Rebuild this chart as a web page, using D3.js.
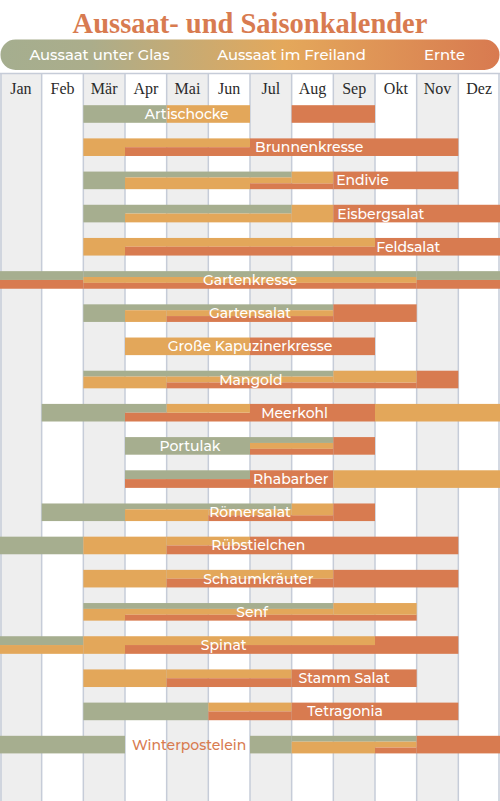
<!DOCTYPE html>
<html>
<head>
<meta charset="utf-8">
<script src="https://cdn.jsdelivr.net/npm/d3@7"></script>
<style>
  html, body { margin: 0; padding: 0; background: #ffffff; }
  svg { display: block; }
</style>
</head>
<body>
<svg id="chart" width="500" height="801"></svg>
<script>
// ---------- DATA ----------
const title = "Aussaat- und Saisonkalender";
const legendLabels = ["Aussaat unter Glas", "Aussaat im Freiland", "Ernte"];
const months = ["Jan","Feb","Mär","Apr","Mai","Jun","Jul","Aug","Sep","Okt","Nov","Dez"];
const plants = ["Artischocke","Brunnenkresse","Endivie","Eisbergsalat","Feldsalat","Gartenkresse",
  "Gartensalat","Große Kapuzinerkresse","Mangold","Meerkohl","Portulak","Rhabarber","Römersalat",
  "Rübstielchen","Schaumkräuter","Senf","Spinat","Stamm Salat","Tetragonia","Winterpostelein"];
// month index ranges (inclusive), 0 = Jan ... 11 = Dez
const glas = [
  [[2,3]], [], [[2,6]], [[2,6]], [], [[0,11]], [[2,7]], [], [[2,7]], [[1,3]],
  [[3,7]], [[3,5]], [[1,6]], [[0,1]], [], [[2,7]], [[0,1]], [], [[2,4]], [[0,2],[6,9]]
];
const freiland = [
  [[4,5]], [[2,5]], [[3,7]], [[3,7]], [[2,8]], [[2,9]], [[3,7]], [[3,5]], [[2,9]], [[4,5],[9,11]],
  [[6,7]], [[8,11]], [[3,7]], [[2,5]], [[2,7]], [[2,9]], [[0,8]], [[2,6]], [[5,6]], [[7,9]]
];
const ernte = [
  [[7,8]], [[3,10]], [[6,10]], [[8,11]], [[3,11]], [[0,11]], [[4,9]], [[6,8]], [[4,10]], [[3,8]],
  [[6,8]], [[3,7]], [[5,8]], [[4,10]], [[4,10]], [[3,9]], [[3,10]], [[4,9]], [[5,10]], [[9,11]]
];
// label anchor (in month units, centre of text) — layout, kept separate
const labelAt = [4.48,7.42,8.7,9.14,9.8,6.0,6.0,6.0,6.02,7.07,4.56,6.98,6.0,6.2,6.2,6.05,5.37,8.26,8.28,4.54];

// ---------- STYLE ----------
const colors = ["#a6ae8f", "#e3a75a", "#d87b50"];
const W = 500, H = 801;
const svg = d3.select("#chart");

const x = d3.scaleLinear().domain([0, 12]).range([0, 500]);
const y = d3.scaleBand().domain(plants).range([97.4, 97.4 + 20 * 33.19]);
const barH = 17.6;

// title
svg.append("text").attr("x", 250).attr("y", 33)
  .attr("text-anchor", "middle")
  .attr("font-family", "'Liberation Serif', 'DejaVu Serif', serif")
  .attr("font-weight", "bold").attr("font-size", 28.5)
  .attr("fill", "#d87b50").text(title);

// legend pill
const defs = svg.append("defs");
const grad = defs.append("linearGradient").attr("id", "lg").attr("x1", "0%").attr("x2", "100%");
grad.append("stop").attr("offset", "0%").attr("stop-color", "#a5ae8f");
grad.append("stop").attr("offset", "18%").attr("stop-color", "#abad8b");
grad.append("stop").attr("offset", "57%").attr("stop-color", "#e4a85b");
grad.append("stop").attr("offset", "100%").attr("stop-color", "#d87a50");
svg.append("rect").attr("x", 0.5).attr("y", 39.5).attr("width", 499).attr("height", 30.5)
  .attr("rx", 15).attr("fill", "url(#lg)");
const legendX = [99.5, 291.5, 444.5];
legendLabels.forEach((t, i) => {
  svg.append("text").attr("x", legendX[i]).attr("y", 60)
    .attr("text-anchor", "middle")
    .attr("font-family", "Montserrat, Inter, 'Open Sans', sans-serif")
    .attr("font-weight", 500)
    .attr("font-size", 14.8).attr("fill", "#ffffff").text(t);
});

// columns
const gridTop = 73.5;
const colG = svg.append("g");
months.forEach((m, i) => {
  colG.append("rect").attr("x", x(i)).attr("y", gridTop).attr("width", x(i + 1) - x(i)).attr("height", H - gridTop)
    .attr("fill", i % 2 === 0 ? "#eeeeee" : "#ffffff");
});
// grid lines
d3.range(0, 13).forEach(i => {
  const xx = i === 0 ? 1 : (i === 12 ? 499 : x(i));
  colG.append("line").attr("x1", xx).attr("x2", xx).attr("y1", gridTop).attr("y2", H)
    .attr("stroke", "#c6ccd8").attr("stroke-width", 1.5);
});
colG.append("line").attr("x1", 0).attr("x2", 500).attr("y1", gridTop).attr("y2", gridTop)
  .attr("stroke", "#c6ccd8").attr("stroke-width", 1.5);

// month header
months.forEach((m, i) => {
  svg.append("text").attr("x", (x(i) + x(i + 1)) / 2).attr("y", 94)
    .attr("text-anchor", "middle")
    .attr("font-family", "'Liberation Serif', 'DejaVu Serif', serif")
    .attr("font-size", 16).attr("fill", "#2a2a2a").text(m);
});

// bars
const cats = [glas, freiland, ernte];
const barG = svg.append("g");
plants.forEach((p, r) => {
  const active = d3.range(12).map(m =>
    [0, 1, 2].filter(c => cats[c][r].some(([a, b]) => m >= a && m <= b)));
  const n = d3.max(active, a => a.length);
  const ext = active.map(a => {
    const out = [];
    if (a.length === 0) return out;
    if (n < 3) {
      a.forEach((c, k) => out.push([c, k / a.length, (k + 1) / a.length]));
    } else {
      a.forEach((c, k) => {
        const t0 = k === 0 ? 0 : ((a[k - 1] + 1) + c) / 2 / 3;
        const t1 = k === a.length - 1 ? 1 : ((c + 1) + a[k + 1]) / 2 / 3;
        out.push([c, t0, t1]);
      });
    }
    return out;
  });
  const segs = [];
  ext.forEach((list, m) => {
    list.forEach(([c, t0, t1]) => {
      const last = segs.find(s => s.c === c && s.t0 === t0 && s.t1 === t1 && s.m1 === m - 1);
      if (last) last.m1 = m;
      else segs.push({ c, t0, t1, m0: m, m1: m });
    });
  });
  const y0 = y(p) + (y.bandwidth() - barH) / 2;
  segs.forEach(s => {
    barG.append("rect")
      .attr("x", x(s.m0)).attr("width", x(s.m1 + 1) - x(s.m0))
      .attr("y", y0 + s.t0 * barH).attr("height", (s.t1 - s.t0) * barH)
      .attr("fill", colors[s.c]);
  });
  const onWhite = p === "Winterpostelein";
  barG.append("text").attr("x", x(labelAt[r])).attr("y", y0 + barH / 2 + 5)
    .attr("text-anchor", "middle")
    .attr("font-family", "Montserrat, Inter, 'Open Sans', sans-serif")
    .attr("font-weight", 500)
    .attr("font-size", 14)
    .attr("fill", onWhite ? "#d87b50" : "#ffffff").text(p);
});
</script>
</body>
</html>
